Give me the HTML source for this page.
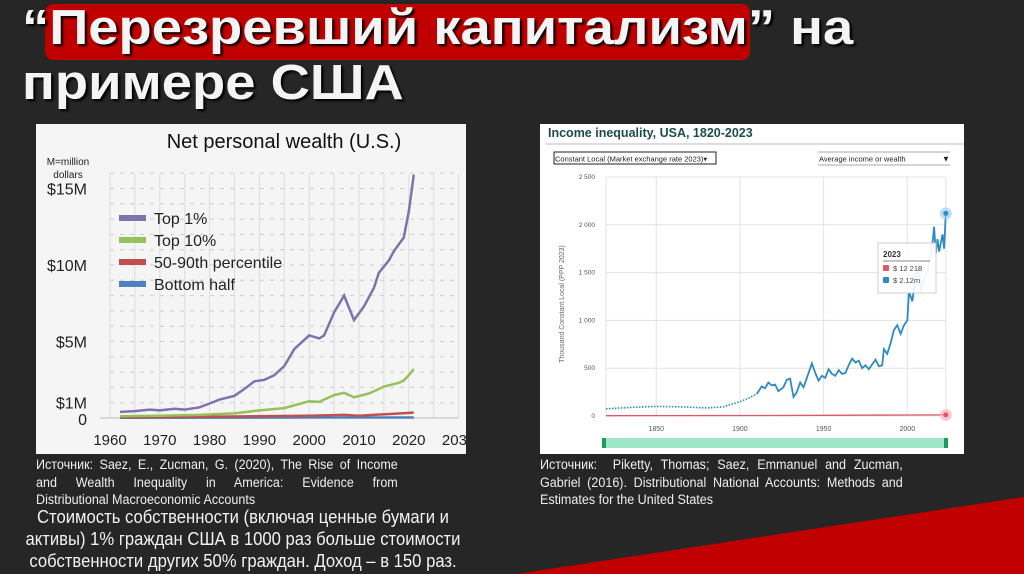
<!DOCTYPE html>
<html><head><meta charset="utf-8">
<style>
body{margin:0;width:1024px;height:574px;overflow:hidden;background:#262626;font-family:"Liberation Sans",sans-serif;position:relative}
.abs{position:absolute}
.narrow{font-family:"Liberation Sans Narrow","Liberation Sans",sans-serif;color:#eee;transform-origin:left top}
.jl{text-align:justify;text-align-last:justify;white-space:nowrap}
.ll{text-align:left;white-space:nowrap}
</style></head><body>
<svg class="abs" style="left:0;top:0" width="1024" height="574"><polygon points="516,574 1024,497 1024,574" fill="#c00000"/></svg>
<div class="abs" style="left:45px;top:4px;width:705px;height:56px;background:#c00000;border-radius:8px"></div>
<div class="abs" style="left:22px;top:1px;font-weight:bold;font-size:49px;line-height:55px;color:#f4f4f4;text-shadow:2px 2px 2px #000;transform:scaleX(1.11);transform-origin:left top;white-space:nowrap">“Перезревший капитализм” на<br>примере США</div>

<svg class="abs" style="left:36px;top:124px" width="430" height="330" id="left"></svg>
<svg class="abs" style="left:540px;top:124px" width="424" height="330" id="right"></svg>

<div class="abs narrow" style="left:36px;top:456px;width:389px;font-size:13.5px;line-height:17.5px;transform:scaleX(0.93)">
<div class="jl">Источник: Saez, E., Zucman, G. (2020), The Rise of Income</div>
<div class="jl">and Wealth Inequality in America: Evidence from</div>
<div class="ll">Distributional Macroeconomic Accounts</div></div>
<div class="abs narrow" style="left:18px;top:506px;width:500px;font-size:18.5px;line-height:22px;text-align:center;color:#f2f2f2;white-space:nowrap;transform:scaleX(0.9)">Стоимость собственности (включая ценные бумаги и<br>активы) 1% граждан США в 1000 раз больше стоимости<br>собственности других 50% граждан. Доход – в 150 раз.</div>
<div class="abs narrow" style="left:540px;top:456px;width:390px;font-size:13.5px;line-height:17.5px;transform:scaleX(0.93)">
<div class="jl">Источник:&nbsp; Piketty, Thomas; Saez, Emmanuel and Zucman,</div>
<div class="jl">Gabriel (2016). Distributional National Accounts: Methods and</div>
<div class="ll">Estimates for the United States</div></div>

<script>
// ---- Left chart data (millions USD) ----
const top1Years=[1962,1965,1968,1970,1973,1975,1978,1980,1982,1985,1987,1989,1991,1993,1995,1997,2000,2002,2003,2005,2007,2009,2011,2013,2014,2016,2017,2019,2020,2021];
const top1Vals=[0.4,0.45,0.55,0.5,0.6,0.55,0.7,0.95,1.2,1.45,1.9,2.4,2.5,2.8,3.4,4.5,5.4,5.2,5.4,6.9,8.0,6.4,7.3,8.5,9.5,10.3,10.9,11.8,13.5,15.9];
const top10Years=[1962,1970,1978,1985,1990,1995,2000,2002,2005,2007,2009,2012,2015,2018,2019,2020,2021];
const top10Vals=[0.12,0.15,0.2,0.3,0.5,0.65,1.1,1.05,1.5,1.65,1.35,1.6,2.05,2.3,2.45,2.8,3.2];
const midYears=[1962,1980,2000,2007,2010,2021];
const midVals=[0.05,0.08,0.15,0.2,0.15,0.35];
const botYears=[1962,2000,2021];
const botVals=[0.01,0.03,0.03];
const leftXTicks=[1960,1970,1980,1990,2000,2010,2020,2030];
const leftYTicks=[0,1,5,10,15];
const leftYLabels=["0","$1M","$5M","$10M","$15M"];
const legendNames=["Top 1%","Top 10%","50-90th percentile","Bottom half"];
const legendColors=["#8072ad","#95c05a","#c0504d","#4f81bd"];

// ---- Right chart data (thousand) ----
const dotYears=[1820,1835,1850,1865,1880,1890,1900,1905,1910];
const dotVals=[75,90,100,95,85,95,150,185,230];
const blueYears=[1910,1913,1915,1917,1919,1921,1923,1926,1928,1930,1932,1934,1936,1938,1940,1943,1945,1947,1949,1951,1953,1955,1957,1959,1961,1963,1965,1967,1969,1971,1973,1975,1977,1979,1981,1983,1985,1986,1988,1990,1992,1994,1996,1998,2000,2001,2003,2005,2007,2008,2010,2012,2014,2015,2016,2017,2018,2019,2021,2022,2023];
const blueVals=[230,310,290,350,320,330,260,300,380,390,200,250,350,300,400,550,450,370,420,400,490,440,420,480,440,450,530,600,560,580,500,530,490,540,590,520,530,700,650,760,900,950,860,950,1000,1300,1200,1450,1600,1300,1450,1500,1700,1800,1980,1700,1850,1720,1900,1750,2120];
const redYears=[1820,1910,1950,2000,2023];
const redVals=[3,5,7,10,12];
const rightXTicks=[1850,1900,1950,2000];
const rightYTicks=[0,500,1000,1500,2000,2500];
const rightYLabels=["0","500","1 000","1 500","2 000","2 500"];

const NS="http://www.w3.org/2000/svg";
function mk(svg,tag,attrs,txt){const e=document.createElementNS(NS,tag);for(const k in attrs)e.setAttribute(k,attrs[k]);if(txt!==undefined)e.textContent=txt;svg.appendChild(e);return e;}

// Left
const L=document.getElementById('left');
const lx=y=>74+(y-1960)*4.98;
const ly=v=>294-v*15.3;
let e=mk(L,'rect',{x:0,y:0,width:430,height:330,fill:'#f5f5f5'});

mk(L,'text',{x:248,y:24,'text-anchor':'middle','font-size':20,fill:'#111'},'Net personal wealth (U.S.)');
mk(L,'text',{x:32,y:41,'text-anchor':'middle','font-size':10,fill:'#222'},'M=million');
mk(L,'text',{x:32,y:54,'text-anchor':'middle','font-size':10,fill:'#222'},'dollars');
for(let yr=1960;yr<=2030;yr+=5){e=mk(L,'line',{x1:lx(yr),x2:lx(yr),y1:50,y2:294,stroke:'#ddd','stroke-width':1});}
for(let v=1;v<=16;v++){e=mk(L,'line',{x1:lx(1960),x2:lx(2030),y1:ly(v),y2:ly(v),stroke:'#ccc','stroke-dasharray':'4 6'});}
mk(L,'line',{x1:lx(1960)-10,x2:lx(2030),y1:ly(0),y2:ly(0),stroke:'#bbb'});
leftXTicks.forEach(t=>{e=mk(L,'text',{x:lx(t),y:321,'text-anchor':'middle','font-size':15,fill:'#222'},t);});
leftYTicks.forEach((t,i)=>{e=mk(L,'text',{x:51,y:ly(t)+6+(t===0?1:0),'text-anchor':'end','font-size':16,fill:'#222'},leftYLabels[i]);});
function pathL(xs,vs){return xs.map((x,i)=>(i?'L':'M')+lx(x).toFixed(1)+','+ly(vs[i]).toFixed(1)).join('');}
[[botYears,botVals,'bottom-half-line'],[midYears,midVals,'mid-percentile-line'],[top10Years,top10Vals,'top10-line'],[top1Years,top1Vals,'top1-line']].forEach((s,i)=>{
 const c=legendColors[3-i];
 e=mk(L,'path',{d:pathL(s[0],s[1]),fill:'none',stroke:c,'stroke-width':2.5});
 
});
legendNames.forEach((n,i)=>{
 e=mk(L,'rect',{x:83,y:91+i*22,width:27,height:6,fill:legendColors[i]});
 
 e=mk(L,'text',{x:118,y:100+i*22,'font-size':16,fill:'#222'},n);
 
});

// Right
const R=document.getElementById('right');
const rx=y=>66+(y-1820)*1.674;
const ry=v=>292-v*0.0956;
e=mk(R,'rect',{x:0,y:0,width:424,height:330,fill:'#fff'});

mk(R,'text',{x:8,y:13,'font-size':12.5,'font-weight':'bold',fill:'#1d4d4a'},'Income inequality, USA, 1820-2023');
mk(R,'line',{x1:6,x2:424,y1:20,y2:20,stroke:'#bbb'});
e=mk(R,'rect',{x:14,y:28,width:162,height:12,fill:'#fff',stroke:'#222'});

mk(R,'text',{x:15,y:37.5,'font-size':7.5,fill:'#222'},'Constant Local (Market exchange rate 2023)▾');
e=mk(R,'line',{x1:278,x2:410,y1:28,y2:28,stroke:'#aaa'});
mk(R,'line',{x1:278,x2:410,y1:41,y2:41,stroke:'#aaa'});
e=mk(R,'text',{x:279,y:37.5,'font-size':7.5,fill:'#222'},'Average income or wealth');

mk(R,'text',{x:402,y:37.5,'font-size':8,fill:'#222'},'▼');
mk(R,'line',{x1:rx(1820),x2:rx(1820),y1:ry(2500),y2:ry(0),stroke:'#e3e3e3'});
rightXTicks.forEach(t=>{mk(R,'line',{x1:rx(t),x2:rx(t),y1:ry(2500),y2:ry(0),stroke:'#e3e3e3'});
 e=mk(R,'text',{x:rx(t),y:307,'text-anchor':'middle','font-size':7,fill:'#555'},t);});
mk(R,'line',{x1:rx(2023),x2:rx(2023),y1:ry(2500),y2:ry(0),stroke:'#e3e3e3'});
rightYTicks.forEach((t,i)=>{mk(R,'line',{x1:rx(1820),x2:rx(2023),y1:ry(t),y2:ry(t),stroke:'#e3e3e3'});
 e=mk(R,'text',{x:55,y:ry(t)+2,'text-anchor':'end','font-size':6.5,fill:'#555'},rightYLabels[i]);});
e=mk(R,'text',{x:24,y:180,'text-anchor':'middle','font-size':7,fill:'#666',transform:'rotate(-90 24 180)'},'Thousand Constant Local (PPP 2023)');

function pathR(xs,vs){return xs.map((x,i)=>(i?'L':'M')+rx(x).toFixed(1)+','+ry(vs[i]).toFixed(1)).join('');}
e=mk(R,'path',{d:pathR(redYears,redVals),fill:'none',stroke:'#e0566a','stroke-width':1.3});

e=mk(R,'path',{d:pathR(dotYears,dotVals),fill:'none',stroke:'#2d8ac6','stroke-width':1.6,'stroke-dasharray':'1.5 1.5'});

e=mk(R,'path',{d:pathR(blueYears,blueVals),fill:'none',stroke:'#2d8ac6','stroke-width':1.8});

const lastB=blueVals[blueVals.length-1],lastR=redVals[redVals.length-1];
mk(R,'circle',{cx:rx(2023),cy:ry(lastB),r:6,fill:'#9fd0ef',opacity:0.7});
e=mk(R,'circle',{cx:rx(2023),cy:ry(lastB),r:2.5,fill:'#2d8ac6'});
mk(R,'circle',{cx:rx(2023),cy:ry(lastR),r:6,fill:'#f4b5bd',opacity:0.7});
e=mk(R,'circle',{cx:rx(2023),cy:ry(lastR),r:2.5,fill:'#e0566a'});
e=mk(R,'g',{});
mk(e,'rect',{x:338,y:119,width:58,height:50,fill:'#fff',stroke:'#ccc',opacity:0.92});
mk(e,'text',{x:343,y:133,'font-size':8,'font-weight':'bold',fill:'#333'},'2023');
mk(e,'line',{x1:343,x2:390,y1:137,y2:137,stroke:'#888'});
mk(e,'rect',{x:343,y:141,width:6,height:6,fill:'#e0566a',rx:1});
mk(e,'text',{x:353,y:147,'font-size':7.5,fill:'#444'},'$ 12 218');
mk(e,'rect',{x:343,y:153,width:6,height:6,fill:'#2d8ac6',rx:1});
mk(e,'text',{x:353,y:159,'font-size':7.5,fill:'#444'},'$ 2.12m');
e=mk(R,'rect',{x:62,y:314,width:346,height:10,fill:'#9ee6c5'});

mk(R,'rect',{x:62,y:314,width:4,height:10,fill:'#1e9a5e'});
mk(R,'rect',{x:404,y:314,width:4,height:10,fill:'#1e9a5e'});
</script>
</body></html>
